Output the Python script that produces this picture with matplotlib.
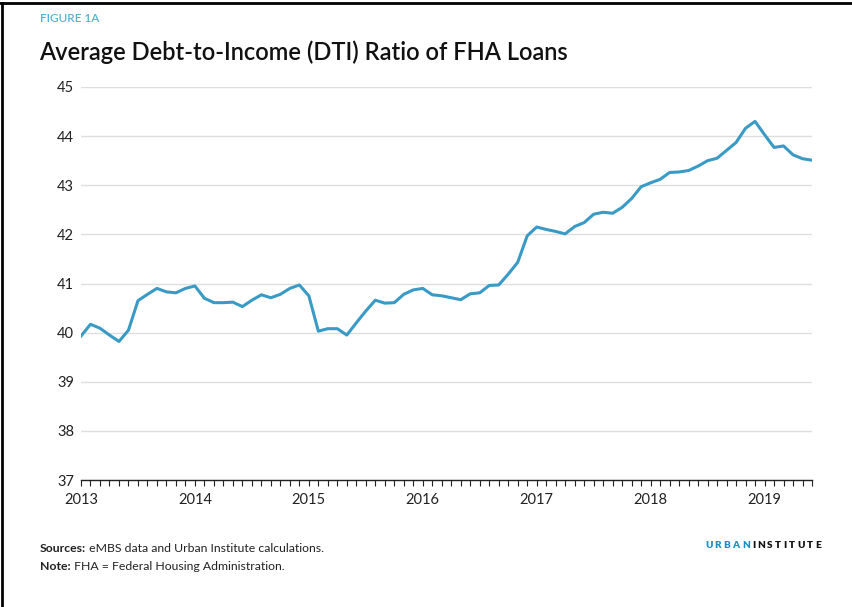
import matplotlib
matplotlib.use("Agg")
import matplotlib.pyplot as plt
from matplotlib.lines import Line2D
import numpy as np

plt.rcParams['font.family'] = ['Lato', 'DejaVu Sans']

# monthly average DTI, Jan 2013 - Jun 2019
dti = [
    39.93, 40.17, 40.09, 39.95, 39.82, 40.05, 40.65, 40.78, 40.90, 40.83, 40.81, 40.90,  # 2013
    40.95, 40.70, 40.61, 40.61, 40.62, 40.53, 40.66, 40.77, 40.71, 40.78, 40.90, 40.97,  # 2014
    40.75, 40.03, 40.08, 40.08, 39.95, 40.20, 40.44, 40.66, 40.60, 40.61, 40.78, 40.87,  # 2015
    40.90, 40.77, 40.75, 40.71, 40.67, 40.79, 40.81, 40.96, 40.97, 41.19, 41.43, 41.97,  # 2016
    42.15, 42.10, 42.06, 42.01, 42.16, 42.24, 42.41, 42.45, 42.43, 42.55, 42.73, 42.97,  # 2017
    43.05, 43.12, 43.26, 43.27, 43.30, 43.39, 43.50, 43.55, 43.71, 43.87, 44.16, 44.30,  # 2018
    44.03, 43.77, 43.80, 43.62, 43.54, 43.51,                                            # 2019
]
years = ['2013', '2014', '2015', '2016', '2017', '2018', '2019']
yticks = [37, 38, 39, 40, 41, 42, 43, 44, 45]

W, H = 853, 607
fig = plt.figure(figsize=(W / 100, H / 100), dpi=100)
fig.patch.set_facecolor('white')
renderer = fig.canvas.get_renderer()

# axes placed in pixel terms
left, right, top, bottom = 81, 812, 87, 480
ax = fig.add_axes([left / W, 1 - bottom / H, (right - left) / W, (bottom - top) / H])

months = np.arange(len(dti))
ax.plot(months, dti, color='#3a9ac6', lw=2.2, solid_joinstyle='round', zorder=3)

ax.set_xlim(0, len(dti) - 1)
ax.set_ylim(37, 45)
ax.set_yticks(yticks)
ax.set_yticklabels([str(v) for v in yticks], fontsize=10.5, color='#222222')
ax.yaxis.grid(True, color='#dedede', lw=1.0)
ax.set_axisbelow(True)
ax.tick_params(axis='y', length=0, pad=5)

ax.set_xticks(np.arange(0, len(dti), 12))
ax.set_xticklabels(years, fontsize=10.5, color='#222222')
ax.set_xticks(months, minor=True)
ax.tick_params(axis='x', which='both', direction='out', length=4, width=0.8, color='#222222')
ax.tick_params(axis='x', which='major', pad=5)

for s in ['top', 'left', 'right']:
    ax.spines[s].set_visible(False)
ax.spines['bottom'].set_color('#222222')
ax.spines['bottom'].set_linewidth(1.0)

# header
fig.text(40 / W, 1 - 18 / H, 'FIGURE 1A', fontsize=8.5, fontweight='semibold',
         color='#58b0d2', va='center', ha='left')
fig.text(39 / W, 1 - 52 / H, 'Average Debt-to-Income (DTI) Ratio of FHA Loans',
         fontsize=17, fontweight='semibold', color='#111111', va='center', ha='left')


def run_text(x, y, parts, size, tracking=0.0):
    # draw text pieces one after another, x and y in pixels from top-left
    for txt, weight, color in parts:
        chars = list(txt) if tracking else [txt]
        for c in chars:
            t = fig.text(x / W, 1 - y / H, c, fontsize=size, fontweight=weight,
                         color=color, va='center', ha='left')
            x += t.get_window_extent(renderer).width + tracking
    return x


# footer
run_text(40, 548, [('Sources:', 'bold', '#222222'),
                   (' eMBS data and Urban Institute calculations.', 'normal', '#222222')], 8.8)
run_text(40, 566, [('Note:', 'bold', '#222222'),
                   (' FHA = Federal Housing Administration.', 'normal', '#222222')], 8.8)

# wordmark with letter spacing
run_text(705, 546, [('URBAN', 'heavy', '#1a8fc6'), ('INSTITUTE', 'heavy', '#111111')],
         7.2, tracking=2.2)

# frame lines at top and left edge
fig.add_artist(Line2D([0, 1], [1 - 3 / H, 1 - 3 / H], color='black', lw=2.0))
fig.add_artist(Line2D([2 / W, 2 / W], [0, 1 - 3 / H], color='black', lw=2.0))

fig.savefig('out.png', dpi=100, facecolor='white')
